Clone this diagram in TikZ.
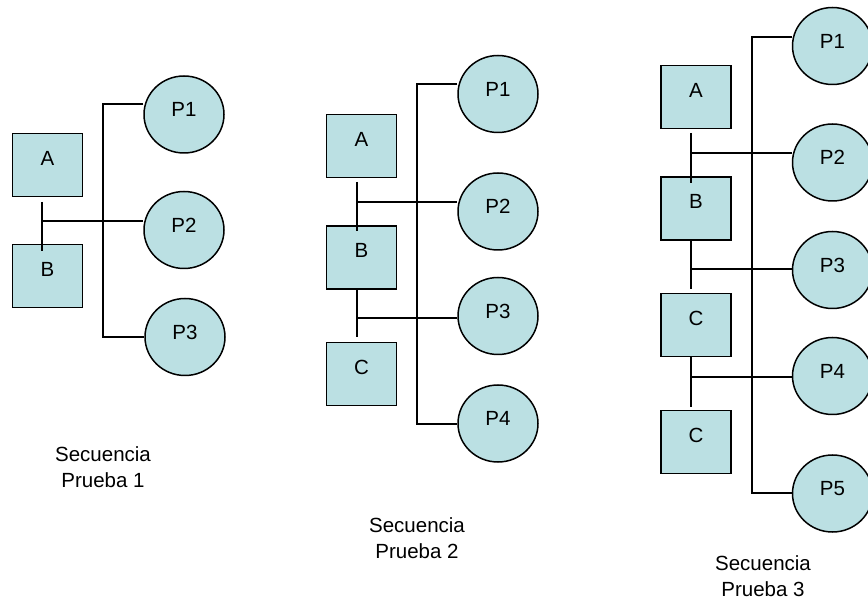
\documentclass[tikz,border=0pt]{standalone}
\usepackage{fontspec}
\setmainfont{Liberation Sans}
\usetikzlibrary{shapes.geometric,backgrounds}
\definecolor{fillc}{RGB}{187,224,227}
\begin{document}
\begin{tikzpicture}[x=1pt,y=-1pt,
  lbl/.style={font=\fontsize{20.5}{26}\selectfont},
  boxn/.style={lbl,draw,line width=1.5pt,fill=fillc,minimum width=70pt,minimum height=63pt,inner sep=0pt,text height=15pt,text depth=14pt},
  circn/.style={lbl,ellipse,draw,line width=1.5pt,fill=fillc,minimum width=80pt,minimum height=77pt,inner sep=0pt,text height=15pt,text depth=10pt},
  wire/.style={line width=1.3pt},
  captxt/.style={lbl,align=center,inner sep=0pt}
]
\useasboundingbox (0,0) rectangle (868,609);

% ---------- Group 1 ----------
\node[boxn] (a1) at (47.5,165) {A};
\node[boxn] (b1) at (47.5,276) {B};
\node[circn] (p11) at (184,114.5) {P1};
\node[circn] (p12) at (184,230) {P2};
\node[circn] (p13) at (185,337) {P3};
\coordinate (g1t) at (103,104);
\coordinate (g1b) at (103,337);
\coordinate (g1s) at (42,202);
\coordinate (g1e) at (42,251);
\coordinate (g1j) at (42,221);
\coordinate (g1p1) at (p11.west |- g1t);
\coordinate (g1p2) at (p12.west |- g1j);
\coordinate (g1p3) at (p13.west |- g1b);
\begin{scope}[on background layer]
\draw[wire] (g1p1) -- (g1t) -- (g1b) -- (g1p3);
\draw[wire] (g1j) -- (g1p2);
\end{scope}
\draw[wire] (g1s) -- (g1e);
\node[captxt] (c1) at (103,467) {Secuencia\\Prueba 1};

% ---------- Group 2 ----------
\node[boxn] (a2) at (361.5,146) {A};
\node[boxn] (b2) at (361.5,257.5) {B};
\node[boxn] (cc2) at (361.5,374) {C};
\node[circn] (p21) at (498,94) {P1};
\node[circn] (p22) at (498,211.5) {P2};
\node[circn] (p23) at (498,316) {P3};
\node[circn] (p24) at (498,423.5) {P4};
\coordinate (g2t) at (417,84);
\coordinate (g2b) at (417,424);
\coordinate (g2s1) at (357,182);
\coordinate (g2e1) at (357,231);
\coordinate (g2s2) at (357,289);
\coordinate (g2e2) at (357,337);
\coordinate (g2j1) at (357,202);
\coordinate (g2j2) at (357,318);
\coordinate (g2p1) at (p21.west |- g2t);
\coordinate (g2p2) at (p22.west |- g2j1);
\coordinate (g2p3) at (p23.west |- g2j2);
\coordinate (g2p4) at (p24.west |- g2b);
\begin{scope}[on background layer]
\draw[wire] (g2p1) -- (g2t) -- (g2b) -- (g2p4);
\draw[wire] (g2j1) -- (g2p2);
\draw[wire] (g2j2) -- (g2p3);
\end{scope}
\draw[wire] (g2s1) -- (g2e1);
\draw[wire] (g2s2) -- (g2e2);
\node[captxt] (c2) at (417,538) {Secuencia\\Prueba 2};

% ---------- Group 3 ----------
\node[boxn] (a3) at (696,97) {A};
\node[boxn] (b3) at (696,208.5) {B};
\node[boxn] (cc3) at (696,325) {C};
\node[boxn] (cd3) at (696,442) {C};
\node[circn] (p31) at (832.5,46) {P1};
\node[circn] (p32) at (832.5,162.5) {P2};
\node[circn] (p33) at (832.5,270) {P3};
\node[circn] (p34) at (832.5,376) {P4};
\node[circn] (p35) at (832.5,493.5) {P5};
\coordinate (g3t) at (752,37);
\coordinate (g3b) at (752,493);
\coordinate (g3s1) at (691,133);
\coordinate (g3e1) at (691,183);
\coordinate (g3s2) at (691,240);
\coordinate (g3e2) at (691,289);
\coordinate (g3s3) at (691,357);
\coordinate (g3e3) at (691,407);
\coordinate (g3j1) at (691,153);
\coordinate (g3j2) at (691,269);
\coordinate (g3j3) at (691,377);
\coordinate (g3p1) at (p31.west |- g3t);
\coordinate (g3p2) at (p32.west |- g3j1);
\coordinate (g3p3) at (p33.west |- g3j2);
\coordinate (g3p4) at (p34.west |- g3j3);
\coordinate (g3p5) at (p35.west |- g3b);
\begin{scope}[on background layer]
\draw[wire] (g3p1) -- (g3t) -- (g3b) -- (g3p5);
\draw[wire] (g3j1) -- (g3p2);
\draw[wire] (g3j2) -- (g3p3);
\draw[wire] (g3j3) -- (g3p4);
\end{scope}
\draw[wire] (g3s1) -- (g3e1);
\draw[wire] (g3s2) -- (g3e2);
\draw[wire] (g3s3) -- (g3e3);
\node[captxt] (c3) at (763,576) {Secuencia\\Prueba 3};
\end{tikzpicture}
\end{document}
